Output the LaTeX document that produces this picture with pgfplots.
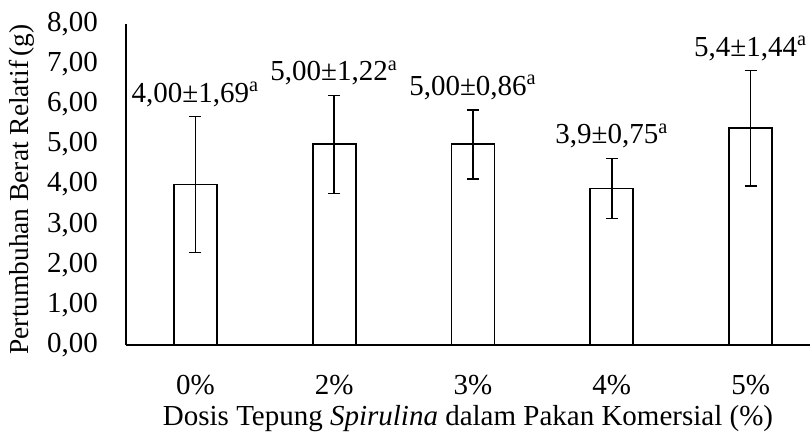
\documentclass[border=0pt]{standalone}
\usepackage{fontspec}
\setmainfont{Liberation Serif}
\usepackage{pgfplots}
\pgfplotsset{compat=1.18}
\begin{document}
\fontsize{14.5}{17}\selectfont
\begin{tikzpicture}
\begin{axis}[
  at={(0,0)}, anchor=south west,
  scale only axis,
  width=342pt, height=160.5pt,
  xmin=-0.5, xmax=4.428,
  ymin=0, ymax=8,
  axis x line=bottom, axis y line=left,
  axis line style={-, line width=0.8pt, black},
  xtick={0,1,2,3,4},
  xticklabels={0\%,2\%,3\%,4\%,5\%},
  ytick={0,1,2,3,4,5,6,7,8},
  major tick length=0pt,
  /pgf/number format/assume math mode=true,
  yticklabel style={/pgf/number format/.cd, fixed, fixed zerofill, precision=2, use comma, /tikz/.cd, xshift=-9pt},
  xticklabel style={yshift=-10pt},
  xlabel={Dosis Tepung \textit{Spirulina} dalam Pakan Komersial (\%)},
  ylabel={Pertumbuhan Berat Relatif\,(g)},
  xlabel style={at={(axis description cs:0.5,-0.23)}, anchor=center},
  ylabel style={at={(axis description cs:-0.152,0.485)}, anchor=center, font=\fontsize{13.7}{16}\selectfont},
  clip=false,
]
\addplot[ybar, bar width=21.5pt, fill=white, draw=black, line width=0.9pt,
  error bars/.cd, y dir=both, y explicit,
  error bar style={line width=0.8pt, black},
  error mark options={rotate=90, mark size=3pt, line width=0.8pt}]
  coordinates {
  (0,4.00) +- (0,1.69)
  (1,5.00) +- (0,1.22)
  (2,5.00) +- (0,0.86)
  (3,3.90) +- (0,0.75)
  (4,5.40) +- (0,1.44)
};
\addplot[draw=none, mark=none, nodes near coords, point meta=explicit symbolic,
  every node near coord/.append style={anchor=south, text=black}]
  coordinates {
  (0,5.69) [{4,00±1,69\textsuperscript{a}}]
  (1,6.22) [{5,00±1,22\textsuperscript{a}}]
  (2,5.86) [{5,00±0,86\textsuperscript{a}}]
  (3,4.65) [{3,9±0,75\textsuperscript{a}}]
  (4,6.84) [{5,4±1,44\textsuperscript{a}}]
};
\end{axis}
\pgfresetboundingbox
\path[use as bounding box] (-63pt,-47pt) rectangle (342pt,172.5pt);
\end{tikzpicture}
\end{document}
